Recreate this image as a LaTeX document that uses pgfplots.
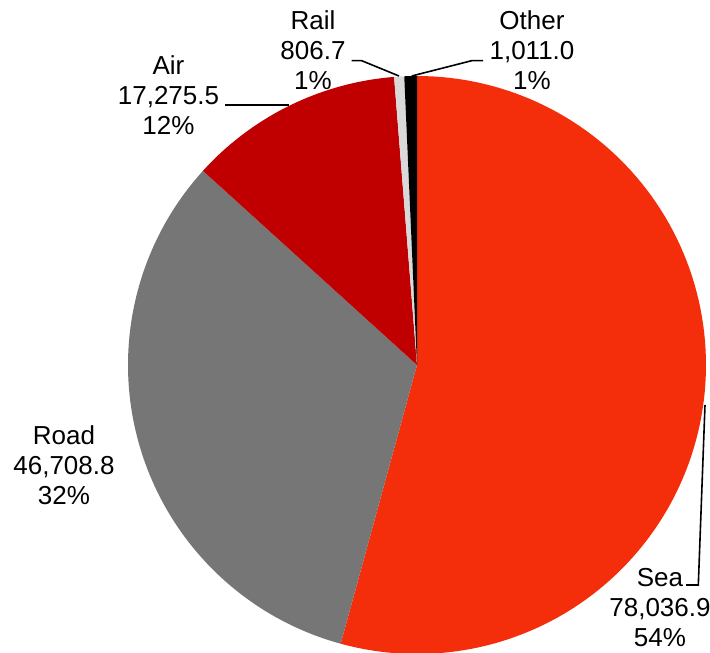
\documentclass[border=0pt]{standalone}
\usepackage{fontspec}
\setmainfont{Liberation Sans}
\usepackage{xfp}
\usepackage{pgfplots}
\pgfplotsset{compat=1.18}
\definecolor{cSea}{HTML}{F42D0A}
\definecolor{cRoad}{HTML}{767676}
\definecolor{cAir}{HTML}{C00000}
\definecolor{cRail}{HTML}{D9D9D9}
\definecolor{cOther}{HTML}{000000}
% values (plain numbers)
\def\vSea{78036.9}
\def\vRoad{46708.8}
\def\vAir{17275.5}
\def\vRail{806.7}
\def\vOther{1011.0}
\edef\tot{\fpeval{\vSea+\vRoad+\vAir+\vRail+\vOther}}
\edef\aA{90}
\edef\aB{\fpeval{round(\aA-360*\vSea/\tot,4)}}
\edef\aC{\fpeval{round(\aB-360*\vRoad/\tot,4)}}
\edef\aD{\fpeval{round(\aC-360*\vAir/\tot,4)}}
\edef\aE{\fpeval{round(\aD-360*\vRail/\tot,4)}}
\edef\aF{\fpeval{round(\aE-360*\vOther/\tot,4)}}
\def\cx{417}\def\cy{288}\def\R{289}
\newcommand\pieslice[3]{%
  \addplot[fill=#1, draw=none, domain=#2:#3, samples=120, variable=\t]
    ({\cx+\R*cos(t)}, {\cy+\R*sin(t)}) -- (axis cs:\cx,\cy) -- cycle;}
\newcommand\bigfont{\fontsize{26pt}{30pt}\selectfont}
\newcommand\lab[5]{%
  \node[anchor=base, inner sep=0pt, font=\bigfont] at (axis cs:#1,#2) {#3};
  \node[anchor=base, inner sep=0pt, font=\bigfont] at (axis cs:#1,#2-30) {#4};
  \node[anchor=base, inner sep=0pt, font=\bigfont] at (axis cs:#1,#2-60) {#5};}
\begin{document}
\begin{tikzpicture}
\begin{axis}[
  scale only axis, width=710pt, height=653pt,
  xmin=0, xmax=710, ymin=0, ymax=653,
  hide axis, clip=true,
]
\pieslice{cSea}{\aA}{\aB}
\pieslice{cRoad}{\aB}{\aC}
\pieslice{cAir}{\aC}{\aD}
\pieslice{cRail}{\aD}{\aE}
\pieslice{cOther}{\aE}{\aF}
% leader lines
\draw[line width=1.6pt] (axis cs:411.7,577) -- (axis cs:471.7,592.3) -- (axis cs:483,592.3);
\draw[line width=1.6pt] (axis cs:351.7,592.3) -- (axis cs:361.7,592.3) -- (axis cs:399,577);
\draw[line width=1.6pt] (axis cs:225,548) -- (axis cs:289,548);
\draw[line width=1.6pt] (axis cs:686,68) -- (axis cs:698.3,68) -- (axis cs:705,248);
% labels
\lab{532}{623}{Other}{1,011.0}{1\%}
\lab{313}{623}{Rail}{806.7}{1\%}
\lab{168.5}{578}{Air}{17,275.5}{12\%}
\lab{64}{208}{Road}{46,708.8}{32\%}
\lab{660}{66}{Sea}{78,036.9}{54\%}
\end{axis}
\pgfresetboundingbox
\useasboundingbox (0,0) rectangle (710pt,653pt);
\end{tikzpicture}
\end{document}
